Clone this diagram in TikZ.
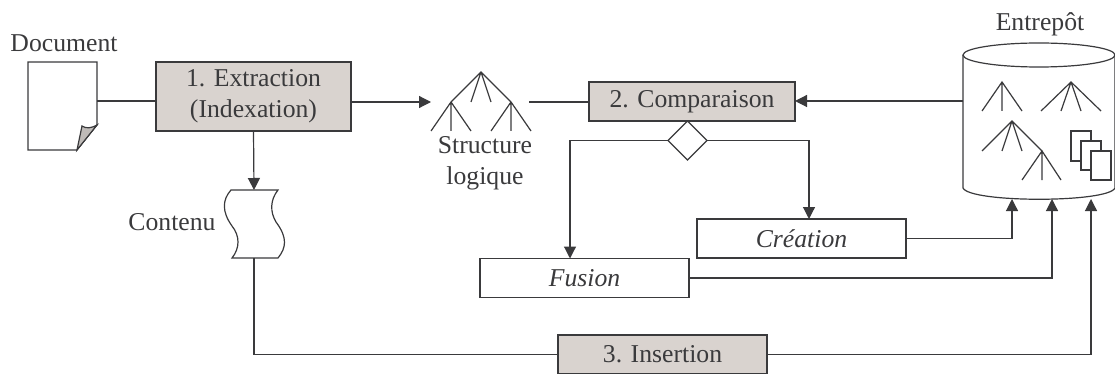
\documentclass[tikz,border=0pt]{standalone}
\usepackage{fontspec}
\setmainfont{Liberation Serif}
\usetikzlibrary{arrows.meta,shapes.geometric}
\definecolor{ink}{HTML}{3A3A3C}
\definecolor{boxgray}{HTML}{D9D3CF}
\tikzset{
  every node/.style={text=ink,font=\fontsize{25.7}{31}\selectfont},
  wire/.style={draw=ink,line width=1.2pt},
  arrowed/.style={wire,-{Triangle[length=12pt,width=12pt]}},
  ghost/.style={inner sep=0pt,outer sep=0pt,draw=none},
  thin shape/.style={draw=ink,line width=1.2pt},
  graybox/.style={draw=ink,line width=1.2pt,fill=boxgray,inner sep=0pt,outer sep=0pt,align=center},
  whitebox/.style={draw=ink,line width=1.2pt,fill=white,inner sep=0pt,outer sep=0pt,font=\fontsize{25.7}{31}\selectfont\itshape},
  label text/.style={inner sep=0pt,outer sep=0pt,align=center},
}
\begin{document}
\begin{tikzpicture}[x=1pt,y=-1pt]
\useasboundingbox (0,0) rectangle (1115,374);
\clip (0,0) rectangle (1115,374);
% ---- nodes
\node[ghost,minimum width=69pt,minimum height=88pt] (doc) at (62.5,106) {};
\node[graybox,minimum width=195pt,minimum height=69pt] (extr) at (253.5,96.5) {1. Extraction\\(Indexation)};
\node[ghost,minimum width=100pt,minimum height=59pt] (tree) at (481,101.5) {};
\node[graybox,minimum width=206pt,minimum height=39pt] (comp) at (692,101.5) {2. Comparaison};
\node[draw=ink,line width=1.2pt,fill=white,diamond,aspect=1,inner sep=0pt,outer sep=0pt,minimum width=39pt,minimum height=39pt] (dia) at (687.5,140.5) {};
\node[whitebox,minimum width=209pt,minimum height=39pt] (crea) at (801.5,238.5) {Création};
\node[whitebox,minimum width=209pt,minimum height=39pt] (fus) at (584.5,278) {Fusion};
\node[graybox,minimum width=209pt,minimum height=39pt] (ins) at (662.5,354.5) {3. Insertion};
\node[ghost,minimum width=152pt,minimum height=156pt] (cyl) at (1039,121) {};
\node[ghost,minimum width=50pt,minimum height=68pt] (tag) at (254,224) {};
% ---- labels
\node[label text] (ldoc) at (64,43) {Document};
\node[label text] (lstr) at (485,163) {Structure\\logique};
\node[label text] (lcon) at (172,222) {Contenu};
\node[label text] (lent) at (1040,24) {Entrepôt};
% ---- document sheet
\draw[thin shape,fill=white] (28,62) -- (97,62) -- (97,125) -- (77,150) -- (28,150) -- cycle;
\draw[thin shape,fill=boxgray!85!black!90] (97,125) .. controls (92,128) and (86,129) .. (82,126) -- (77,150) -- cycle;
% ---- paper tape
\draw[thin shape,fill=white] (231,190) -- (278,190)
  .. controls (270,200) and (270,212) .. (276,222)
  .. controls (288,238) and (286,248) .. (278,258)
  -- (232,258)
  .. controls (240,248) and (240,236) .. (232,226)
  .. controls (222,212) and (222,200) .. (231,190) -- cycle;
% ---- logical tree
\draw[thin shape] (451,102) -- (481,72) -- (511,102)
  (481,72) -- (471,102) (481,72) -- (491,102)
  (431,131) -- (451,102) -- (471,131) (451,102) -- (451,131)
  (491,131) -- (511,102) -- (531,131) (511,102) -- (511,131);
% ---- repository
\draw[thin shape,fill=white] (963,55) -- (963,188) .. controls (970,203) and (1108,203) .. (1115,188) -- (1115,55);
\draw[thin shape,fill=white] (1039,55) ellipse [x radius=76,y radius=12];
\draw[thin shape] (982,111) -- (1002,82) -- (1022,111) (1002,82) -- (1002,111);
\draw[thin shape] (1041,111) -- (1071,82) -- (1101,111) (1071,82) -- (1061,111) (1071,82) -- (1081,111);
\draw[thin shape] (982,151) -- (1012,121) -- (1042,151) (1012,121) -- (1002,151) (1012,121) -- (1022,151);
\draw[thin shape] (1022,180) -- (1042,151) -- (1061,180) (1042,151) -- (1042,180);
\draw[thin shape,fill=white] (1071,131) rectangle (1091,161);
\draw[thin shape,fill=white] (1081,141) rectangle (1101,170);
\draw[thin shape,fill=white] (1091,151) rectangle (1111,180);
% ---- connector ends
\coordinate (cylL) at (963,101);
\coordinate (e1) at (1012,199);
\coordinate (e2) at (1052,199);
\coordinate (e3) at (1091,199);
\coordinate (treeL) at (431,102);
\coordinate (treeR) at (529,102);
\coordinate (tagB) at (254,258);
\coordinate (tagT) at (254,190);
\coordinate (docR) at (97,101);
\coordinate (creaT) at (809,219);
\coordinate (fusT) at (570,258.5);
% ---- connectors
\draw[wire] (docR) -- (docR -| extr.west);
\draw[arrowed] (extr.east |- treeL) -- (treeL);
\draw[arrowed] (extr.south) -- (tagT);
\draw[wire] (treeR) -- (treeR -| comp.west);
\draw[arrowed] (cylL) -- (cylL -| comp.east);
\draw[arrowed] (dia.west) -| (fusT);
\draw[arrowed] (dia.east) -| (creaT);
\draw[arrowed] (crea.east) -| (e1);
\draw[arrowed] (fus.east) -| (e2);
\draw[wire] (tagB) |- (ins.west);
\draw[arrowed] (ins.east) -| (e3);
\end{tikzpicture}
\end{document}
